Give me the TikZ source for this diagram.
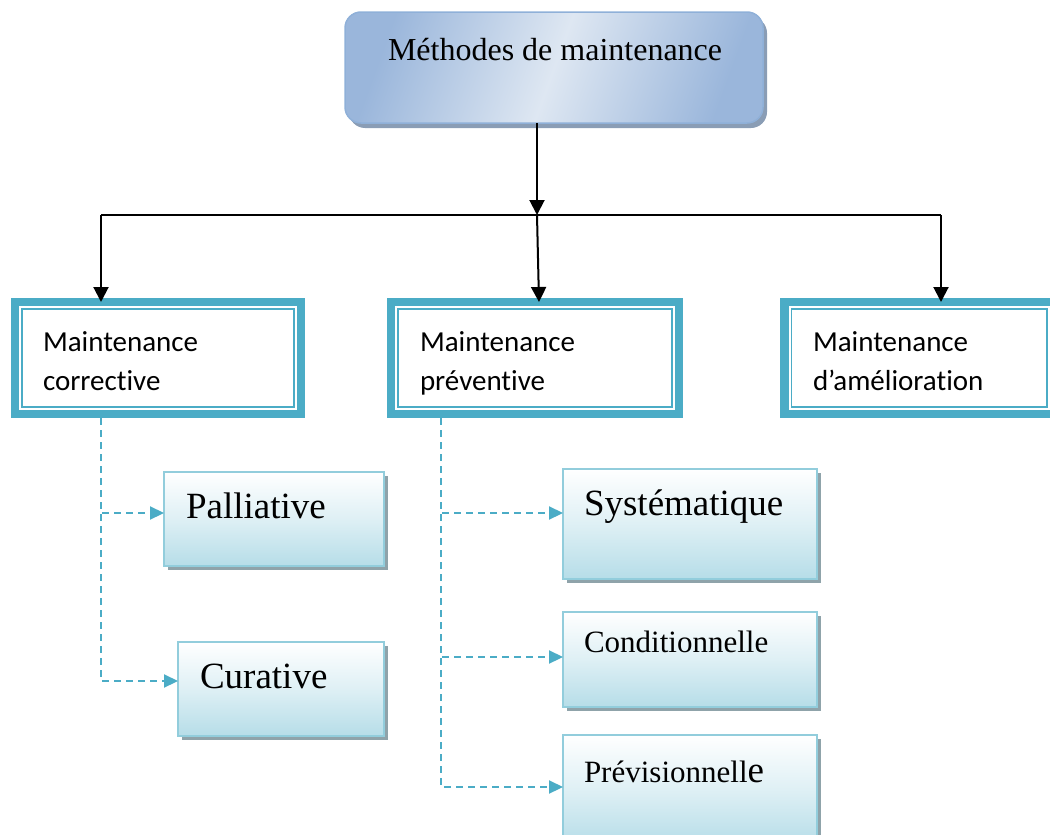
\documentclass[tikz,border=0pt]{standalone}
\usepackage{fontspec}
\setmainfont{Liberation Serif}
\newfontfamily\calfont[Ligatures=NoCommon]{Carlito}
\usetikzlibrary{arrows.meta,shadows}
\definecolor{tealband}{HTML}{4BACC6}
\definecolor{lborder}{HTML}{92CDDC}
\definecolor{lfill}{HTML}{B6DDE8}
\definecolor{tborder}{HTML}{8FB0D8}
\definecolor{tdark}{HTML}{9AB6DB}
\definecolor{tlight}{HTML}{DEE7F2}
\definecolor{shadgray}{HTML}{8FA3AA}
\definecolor{tshad}{HTML}{8A9DB5}
\begin{document}
\begin{tikzpicture}[x=1pt,y=-1pt,
  topbox/.style={rectangle, rounded corners=16pt, draw=tborder, line width=1.5pt,
    top color=tdark, bottom color=tdark, middle color=tlight, shading angle=70,
    inner sep=0pt, outer sep=0pt,
    drop shadow={shadow xshift=4pt, shadow yshift=-5pt, fill=tshad, opacity=1}},
  bandbox/.style={rectangle, draw=tealband, line width=8.5pt, fill=white,
    inner sep=0pt, outer sep=0pt},
  thinline/.style={draw=tealband, line width=1.5pt},
  lbox/.style={rectangle, draw=lborder, line width=1.8pt,
    top color=white, bottom color=lfill, middle color=lfill!45!white,
    inner sep=0pt, outer sep=0pt,
    drop shadow={shadow xshift=4pt, shadow yshift=-4pt, fill=shadgray, opacity=1}},
  txt/.style={anchor=base west, inner sep=0pt, outer sep=0pt},
  serifbig/.style={txt, font=\fontsize{37}{40}\selectfont},
  serifmid/.style={txt, font=\fontsize{31}{36}\selectfont},
  caltxt/.style={txt, font=\calfont\fontsize{29}{34}\selectfont},
  blk/.style={draw=black, line width=2pt, -{Triangle[length=15pt,width=15pt]}},
  blkline/.style={draw=black, line width=2pt},
  dsh/.style={draw=tealband, line width=2.2pt, dash pattern=on 7pt off 5pt,
    -{Triangle[length=14pt,width=13pt]}}
]
\useasboundingbox (0,0) rectangle (1050,835);
\clip (0,0) rectangle (1050,835);

% top box
\node[topbox, minimum width=418pt, minimum height=111pt] (top) at (554,67.5) {};
\node[txt, font=\fontsize{32}{38}\selectfont] (toptxt) at (388,60) {Méthodes de maintenance};

% level 2 boxes
\node[bandbox, minimum width=286pt, minimum height=112pt] (corr) at (158,358) {};
\draw[thinline] ([shift={(7,7)}]corr.north west) rectangle ([shift={(-7,-7)}]corr.south east);
\node[caltxt] (corr1) at (43,351) {Maintenance};
\node[caltxt] (corr2) at (43,390) {corrective};

\node[bandbox, minimum width=288pt, minimum height=112pt] (prev) at (535,358) {};
\draw[thinline] ([shift={(7,7)}]prev.north west) rectangle ([shift={(-7,-7)}]prev.south east);
\node[caltxt] (prev1) at (420,351) {Maintenance};
\node[caltxt] (prev2) at (420,390) {préventive};

\node[bandbox, minimum width=269.5pt, minimum height=112pt] (amel) at (919.25,358) {};
\draw[thinline] ([shift={(7,7)}]amel.north west) rectangle ([shift={(-7,-7)}]amel.south east);
\node[caltxt] (amel1) at (813,351) {Maintenance};
\node[caltxt] (amel2) at (813,390) {d’amélioration};

% black connectors
\coordinate (j) at (537,215);
\coordinate (jl) at (101,215);
\coordinate (jr) at (941,215);
\draw[blk] (top.south -| j) -- (j);
\draw[blkline] (jl) -- (jr);
\draw[blk] (jl) -- (jl |- corr.north);
\draw[blk] (j) -- ([xshift=2pt]j |- prev.north);
\draw[blk] (jr) -- (jr |- amel.north);

% level 3 boxes
\node[lbox, minimum width=220pt, minimum height=94pt] (pall) at (274,519) {};
\node[serifbig] (palltxt) at (186,518) {Palliative};
\node[lbox, minimum width=206pt, minimum height=94pt] (cura) at (281,689) {};
\node[serifbig] (curatxt) at (200,688) {Curative};

\node[lbox, minimum width=254pt, minimum height=110pt] (syst) at (690,524) {};
\node[serifbig] (systtxt) at (584,515) {Systématique};
\node[lbox, minimum width=254pt, minimum height=95pt] (cond) at (690,659.5) {};
\node[serifmid] (condtxt) at (584,652) {Conditionnelle};
\node[lbox, minimum width=254pt, minimum height=110pt] (previ) at (690,790) {};
\node[serifmid] (previtxt) at (584,782) {Prévisionnell{\fontsize{37}{40}\selectfont e}};

% dashed connectors
\coordinate (cl) at (101,418);
\coordinate (cm) at (441,418);
\draw[dsh] (cl) |- ([yshift=6pt]pall.west);
\draw[dsh] (cl) |- ([yshift=8pt]cura.west);
\draw[dsh] (cm) |- ([yshift=11pt]syst.west);
\draw[dsh] (cm) |- ([yshift=2.5pt]cond.west);
\draw[dsh] (cm) |- ([yshift=3pt]previ.west);
\end{tikzpicture}
\end{document}
